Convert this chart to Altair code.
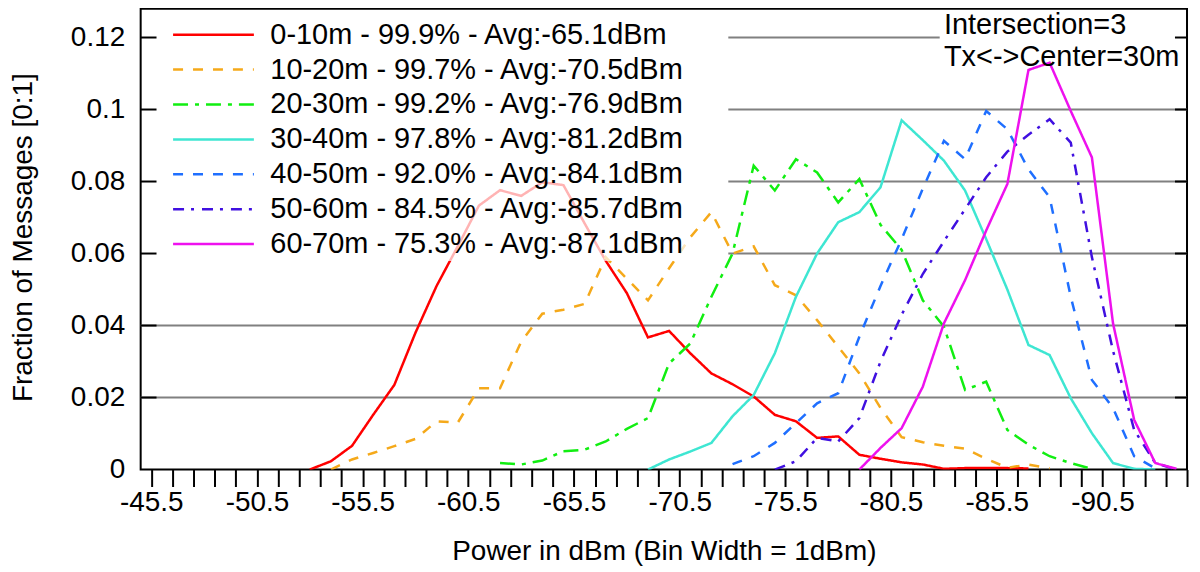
import altair as alt
import pandas as pd

# ---------------- data ----------------
series_labels = [
    "0-10m - 99.9% - Avg:-65.1dBm",
    "10-20m - 99.7% - Avg:-70.5dBm",
    "20-30m - 99.2% - Avg:-76.9dBm",
    "30-40m - 97.8% - Avg:-81.2dBm",
    "40-50m - 92.0% - Avg:-84.1dBm",
    "50-60m - 84.5% - Avg:-85.7dBm",
    "60-70m - 75.3% - Avg:-87.1dBm",
]
series_colors = ["#ff0000", "#f5a91a", "#11ee11", "#3ee6d2", "#1f6fff", "#4010e0", "#ee11ee"]
series_dashes = [[1, 0], [10, 10], [15, 7, 4, 7], [1, 0], [10, 10], [11, 7, 3, 8], [1, 0]]

# first bin (dBm) of each series, then one value per 1 dBm bin going down
series_start = [-53, -54, -62, -69, -73, -75, -79]

red_vals = [0, 0.0023, 0.0066, 0.0152, 0.0235, 0.038, 0.051, 0.062, 0.0733, 0.0776,
            0.076, 0.0798, 0.079, 0.0684, 0.058, 0.049, 0.0367, 0.0385, 0.0323, 0.0267,
            0.0237, 0.0203, 0.0152, 0.0134, 0.0088, 0.0092, 0.0041, 0.003, 0.002, 0.0014,
            0.0002, 0.0004, 0.0004, 0.0004, 0.0003]
orange_vals = [0, 0.0028, 0.0046, 0.0065, 0.0085, 0.0134, 0.013, 0.0226, 0.0226, 0.0355,
               0.0433, 0.0444, 0.046, 0.059, 0.053, 0.047, 0.0559, 0.0645, 0.0715, 0.060,
               0.062, 0.0512, 0.0484, 0.0415, 0.0341, 0.0267, 0.0171, 0.009, 0.0076, 0.0066,
               0.0058, 0.003, 0.0005, 0.0014, 0.0003]
green_vals = [0.0018, 0.0014, 0.0025, 0.0051, 0.0055, 0.0078, 0.0113, 0.0143, 0.0295, 0.035,
              0.048, 0.06, 0.0844, 0.0775, 0.0862, 0.0825, 0.0742, 0.0807, 0.068, 0.061,
              0.047, 0.0397, 0.0221, 0.0244, 0.011, 0.0069, 0.0037, 0.0018, 0.0002]
cyan_vals = [0, 0.0028, 0.005, 0.0074, 0.0148, 0.0207, 0.0323, 0.048, 0.060, 0.0687,
             0.0715, 0.0784, 0.097, 0.0915, 0.0858, 0.0775, 0.064, 0.050, 0.0346, 0.0318,
             0.0198, 0.0101, 0.0018, 0.0002, 0]
blue_vals = [0.0015, 0.0037, 0.0074, 0.0129, 0.0184, 0.0212, 0.0369, 0.051, 0.064, 0.078,
             0.0913, 0.0862, 0.0996, 0.0945, 0.0834, 0.0756, 0.048, 0.0249, 0.0171, 0.0037,
             0.0003]
purple_vals = [0, 0.0023, 0.0088, 0.0078, 0.0143, 0.030, 0.043, 0.0543, 0.0634, 0.0723,
               0.0812, 0.0883, 0.093, 0.0973, 0.0908, 0.059, 0.033, 0.011, 0.0018, 0]
magenta_vals = [0, 0.006, 0.0115, 0.023, 0.0406, 0.0526, 0.0664, 0.0793, 0.111, 0.113,
                0.0996, 0.0867, 0.0406, 0.0138, 0.0018, 0.0002]

all_vals = [red_vals, orange_vals, green_vals, cyan_vals, blue_vals, purple_vals, magenta_vals]

# grid lines (the upper ones are hidden behind the key / the annotation)
grid_y = [0.02, 0.04, 0.06, 0.08, 0.10, 0.12]
grid_x_from = [-45, -45, -72.8, -72.8, -72.8, -72.8]
grid_x_to = [-94.5, -94.5, -94.5, -94.5, -94.5, -82.8]

# inward tick marks on the left and right frame
frame_tick_y = [0.02, 0.04, 0.06, 0.08, 0.10, 0.12]
x_tick_values = [-45.5 - i for i in range(50)]
y_tick_values = [0, 0.02, 0.04, 0.06, 0.08, 0.10, 0.12]

annot_text = ["Intersection=3", "Tx<->Center=30m"]
annot_x = [-83.0, -83.0]
annot_y = [0.1236, 0.1146]

# ---------------- tables ----------------
rows = []
for lab, start, vals in zip(series_labels, series_start, all_vals):
    for i, v in enumerate(vals):
        rows.append({"series": lab, "power": start - i, "frac": v})
df = pd.DataFrame(rows)

grid_df = pd.DataFrame({"gy": grid_y, "gx1": grid_x_from, "gx2": grid_x_to})
tick_rows = []
for ty in frame_tick_y:
    tick_rows.append({"ty": ty, "tx1": -45.0, "tx2": -45.75})
    tick_rows.append({"ty": ty, "tx1": -94.5, "tx2": -93.93})
tick_df = pd.DataFrame(tick_rows)
annot_df = pd.DataFrame({"t": annot_text, "ax": annot_x, "ay": annot_y})

FONT = "Liberation Sans"
xscale = alt.Scale(domain=[-94.5, -45], reverse=True, nice=False, zero=False)
yscale = alt.Scale(domain=[0, 0.128], nice=False, zero=False)

x_axis = alt.Axis(
    values=x_tick_values,
    labelExpr="abs((datum.value + 45.5) % 5) < 0.01 ? ('' + datum.value) : ''",
    labelOverlap=False, labelFlush=False, grid=False, domain=False,
    tickSize=17, tickWidth=2, tickColor="black",
    labelFontSize=28, labelPadding=2,
    title="Power in dBm (Bin Width = 1dBm)", titleFontSize=28, titleFontWeight="normal",
    titleBaseline="middle", titleY=82,
)
y_axis = alt.Axis(
    values=y_tick_values, format=".2~f", grid=False, domain=False, ticks=False,
    labelFontSize=28, labelPadding=16,
    title="Fraction of Messages [0:1]", titleFontSize=28, titleFontWeight="normal",
    titleBaseline="middle", titleX=-117, titleY=229,
)

legend = alt.Legend(
    title=None, orient="none", legendX=29, legendY=10,
    symbolType="stroke", symbolSize=6561, symbolStrokeWidth=2.5,
    labelFontSize=29, labelFont=FONT, labelColor="black", labelOffset=15, labelLimit=600,
    clipHeight=28, rowPadding=6, padding=2, fillColor="rgba(255,255,255,0.7)",
)


def X(field):
    return alt.X(field, type="quantitative", scale=xscale, axis=x_axis)


def Y(field):
    return alt.Y(field, type="quantitative", scale=yscale, axis=y_axis)


grid = alt.Chart(grid_df).mark_rule(color="#808080", strokeWidth=2).encode(
    x=X("gx1"), x2="gx2", y=Y("gy"),
)

lines = alt.Chart(df).mark_line(strokeWidth=2.5, clip=True).encode(
    x=X("power"),
    y=Y("frac"),
    color=alt.Color("series:N", scale=alt.Scale(domain=series_labels, range=series_colors),
                    legend=legend, sort=series_labels),
    strokeDash=alt.StrokeDash("series:N", scale=alt.Scale(domain=series_labels, range=series_dashes),
                              legend=legend, sort=series_labels),
)

ticks = alt.Chart(tick_df).mark_rule(color="black", strokeWidth=2).encode(
    x=X("tx1"), x2="tx2", y=Y("ty"),
)

annot = alt.Chart(annot_df).mark_text(
    align="left", baseline="middle", fontSize=29, font=FONT, color="black"
).encode(
    x=X("ax"), y=Y("ay"), text="t:N",
)

chart = alt.layer(grid, lines, ticks, annot).properties(
    width=1049, height=462,
    autosize=alt.AutoSizeParams(type="none"),
    padding={"left": 133, "top": 0, "right": 5, "bottom": 100},
).configure_view(
    stroke="black", strokeWidth=2
).configure_axis(
    labelFont=FONT, titleFont=FONT, labelColor="black", titleColor="black"
)

chart.save("out.html", embed_options={"renderer": "svg", "actions": False})
